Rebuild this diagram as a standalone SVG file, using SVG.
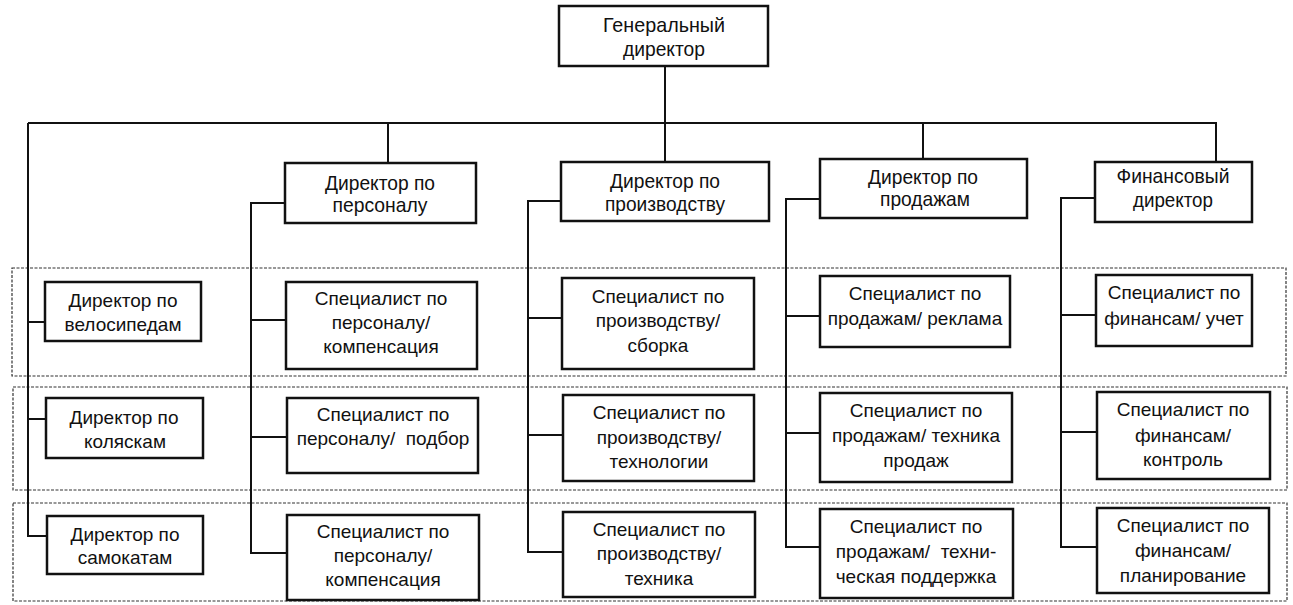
<svg xmlns="http://www.w3.org/2000/svg" width="1293" height="605" viewBox="0 0 1293 605">
<style>
.box{fill:#fff;stroke:#111;stroke-width:2.5}
.grp{fill:none;stroke:#333;stroke-width:1.2;stroke-dasharray:3 1.5}
.con{fill:none;stroke:#111;stroke-width:2}
text{font-family:"Liberation Sans",Arial,sans-serif;fill:#111;text-anchor:middle}
.d{font-size:21px}
.l{font-size:19px}
.s{font-size:19px}
</style>
<rect width="1293" height="605" fill="#fff"/>
<g id="groups">
<rect class="grp" x="12" y="268" width="1274" height="108"/>
<rect class="grp" x="13" y="387" width="1274" height="103"/>
<rect class="grp" x="13" y="503" width="1274" height="98"/>
</g>
<g id="connectors">
<path class="con" d="M665 66 V162"/>
<path class="con" d="M28 123 H1216 V162"/>
<path class="con" d="M388 123 V163"/>
<path class="con" d="M923 123 V159"/>
<path class="con" d="M28 123 V536 H47 M28 322 H45 M28 419 H46"/>
<path class="con" d="M285 203 H251 V553 H287 M251 320 H286 M251 437 H287"/>
<path class="con" d="M561 201 H528 V552 H563 M528 318 H562 M528 435 H563"/>
<path class="con" d="M820 199 H786 V547 H820 M786 316 H820 M786 433 H820"/>
<path class="con" d="M1095 198 H1061 V547 H1097 M1061 315 H1096 M1061 432 H1097"/>
</g>
<g id="gd">
<rect class="box" x="559" y="6" width="209" height="60"/>
<text class="d" x="664" y="32" textLength="122" lengthAdjust="spacingAndGlyphs">Генеральный</text>
<text class="d" x="664" y="56" textLength="82" lengthAdjust="spacingAndGlyphs">директор</text>
</g>
<g id="dir-personnel">
<rect class="box" x="285" y="163" width="191" height="60"/>
<text class="d" x="380" y="190" textLength="110" lengthAdjust="spacingAndGlyphs">Директор по</text>
<text class="d" x="380" y="212" textLength="95" lengthAdjust="spacingAndGlyphs">персоналу</text>
</g>
<g id="dir-production">
<rect class="box" x="561" y="162" width="208" height="59"/>
<text class="d" x="665" y="188" textLength="110" lengthAdjust="spacingAndGlyphs">Директор по</text>
<text class="d" x="665" y="211" textLength="120" lengthAdjust="spacingAndGlyphs">производству</text>
</g>
<g id="dir-sales">
<rect class="box" x="820" y="159" width="207" height="59"/>
<text class="d" x="923" y="184" textLength="110" lengthAdjust="spacingAndGlyphs">Директор по</text>
<text class="d" x="925" y="206" textLength="90" lengthAdjust="spacingAndGlyphs">продажам</text>
</g>
<g id="dir-finance">
<rect class="box" x="1095" y="162" width="157" height="60"/>
<text class="d" x="1173" y="183" textLength="113" lengthAdjust="spacingAndGlyphs">Финансовый</text>
<text class="d" x="1173" y="207" textLength="80" lengthAdjust="spacingAndGlyphs">директор</text>
</g>
<g id="dir-bikes">
<rect class="box" x="45" y="282" width="156" height="59"/>
<text class="l" x="123" y="307">Директор по</text>
<text class="l" x="123" y="331">велосипедам</text>
</g>
<g id="dir-strollers">
<rect class="box" x="46" y="398" width="157" height="60"/>
<text class="l" x="124" y="424">Директор по</text>
<text class="l" x="125" y="448">коляскам</text>
</g>
<g id="dir-scooters">
<rect class="box" x="47" y="516" width="156" height="58"/>
<text class="l" x="125" y="541">Директор по</text>
<text class="l" x="125" y="564">самокатам</text>
</g>
<g id="hr-1">
<rect class="box" x="286" y="282" width="191" height="87"/>
<text class="s" x="381" y="305">Специалист по</text>
<text class="s" x="381" y="329">персоналу/</text>
<text class="s" x="381" y="353">компенсация</text>
</g>
<g id="hr-2">
<rect class="box" x="287" y="398" width="191" height="75"/>
<text class="s" x="383" y="421">Специалист по</text>
<text class="s" x="383" y="445" xml:space="preserve">персоналу/  подбор</text>
</g>
<g id="hr-3">
<rect class="box" x="287" y="515" width="192" height="85"/>
<text class="s" x="383" y="538">Специалист по</text>
<text class="s" x="383" y="562">персоналу/</text>
<text class="s" x="383" y="586">компенсация</text>
</g>
<g id="prod-1">
<rect class="box" x="562" y="278" width="192" height="91"/>
<text class="s" x="658" y="303">Специалист по</text>
<text class="s" x="658" y="327">производству/</text>
<text class="s" x="658" y="352">сборка</text>
</g>
<g id="prod-2">
<rect class="box" x="563" y="395" width="191" height="86"/>
<text class="s" x="659" y="419">Специалист по</text>
<text class="s" x="659" y="444">производству/</text>
<text class="s" x="659" y="468">технологии</text>
</g>
<g id="prod-3">
<rect class="box" x="563" y="512" width="192" height="85"/>
<text class="s" x="659" y="536">Специалист по</text>
<text class="s" x="659" y="560">производству/</text>
<text class="s" x="659" y="585">техника</text>
</g>
<g id="sales-1">
<rect class="box" x="820" y="276" width="190" height="71"/>
<text class="s" x="915" y="300">Специалист по</text>
<text class="s" x="915" y="325">продажам/ реклама</text>
</g>
<g id="sales-2">
<rect class="box" x="820" y="393" width="192" height="89"/>
<text class="s" x="916" y="417">Специалист по</text>
<text class="s" x="916" y="442">продажам/ техника</text>
<text class="s" x="916" y="467">продаж</text>
</g>
<g id="sales-3">
<rect class="box" x="820" y="509" width="193" height="89"/>
<text class="s" x="916" y="533">Специалист по</text>
<text class="s" x="916" y="558" xml:space="preserve">продажам/  техни-</text>
<text class="s" x="916" y="583">ческая поддержка</text>
</g>
<g id="fin-1">
<rect class="box" x="1096" y="275" width="156" height="71"/>
<text class="s" x="1174" y="299">Специалист по</text>
<text class="s" x="1174" y="325">финансам/ учет</text>
</g>
<g id="fin-2">
<rect class="box" x="1097" y="392" width="173" height="87"/>
<text class="s" x="1183" y="416">Специалист по</text>
<text class="s" x="1183" y="442">финансам/</text>
<text class="s" x="1183" y="466">контроль</text>
</g>
<g id="fin-3">
<rect class="box" x="1097" y="508" width="172" height="85"/>
<text class="s" x="1183" y="532">Специалист по</text>
<text class="s" x="1183" y="557">финансам/</text>
<text class="s" x="1183" y="582">планирование</text>
</g>
</svg>
